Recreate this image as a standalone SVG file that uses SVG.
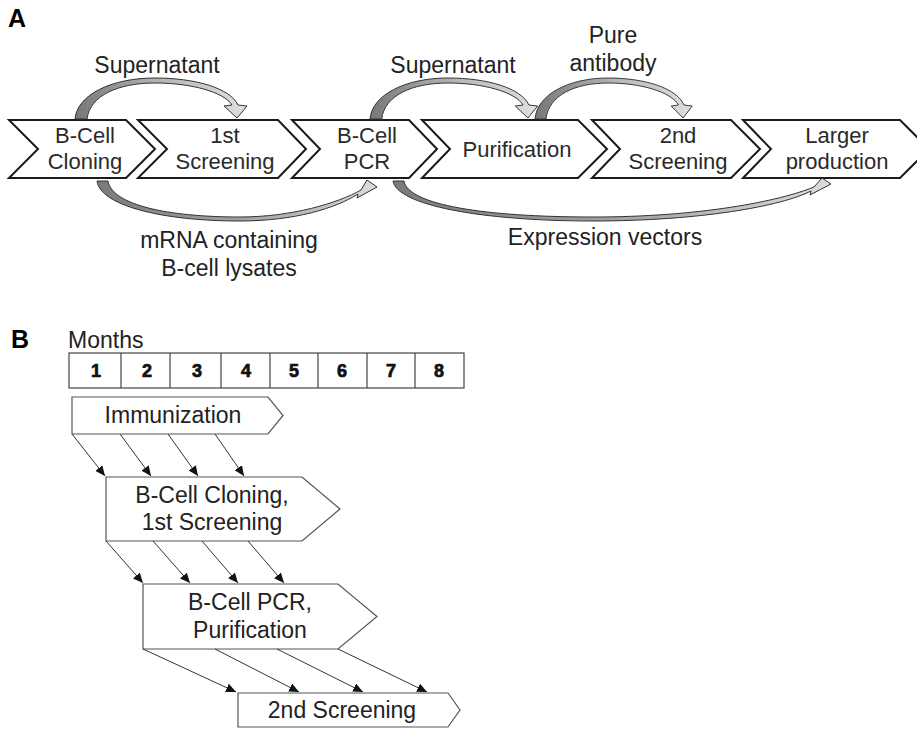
<svg xmlns="http://www.w3.org/2000/svg" width="917" height="729" viewBox="0 0 917 729">
<defs>
<style>
text{font-family:"Liberation Sans",Arial,sans-serif;fill:#222}
.lab{font-size:23px;text-anchor:middle}
.chv{font-size:22px;text-anchor:middle;fill:#2a2a2a}
.hdr{font-size:25px;font-weight:bold;fill:#000}
.num{font-size:18px;font-weight:bold;text-anchor:middle;fill:#111;stroke:#111;stroke-width:0.7}
.chev{fill:#fff;stroke:#1a1a1a;stroke-width:2;stroke-linejoin:miter}
.box{fill:#fff;stroke:#555;stroke-width:1.2}
.curve{fill:url(#g);stroke:#333;stroke-width:1}
.curveB{fill:url(#g2);stroke:#333;stroke-width:1}
.ln{stroke:#333;stroke-width:1;fill:none;marker-end:url(#ah)}
</style>
<linearGradient id="g" x1="0" y1="0" x2="1" y2="0">
<stop offset="0" stop-color="#777"/><stop offset="0.5" stop-color="#b5b5b5"/><stop offset="1" stop-color="#e0e0e0"/>
</linearGradient>
<linearGradient id="g2" x1="0" y1="0" x2="1" y2="0">
<stop offset="0" stop-color="#7a7a7a"/><stop offset="0.6" stop-color="#aaa"/><stop offset="1" stop-color="#dcdcdc"/>
</linearGradient>
<marker id="ah" viewBox="0 0 10 9" refX="10" refY="4.5" markerWidth="10" markerHeight="9" markerUnits="userSpaceOnUse" orient="auto">
<path d="M0,0 L10,4.5 L0,9 Z" fill="#111"/>
</marker>
<path id="topArrow" d="M0,0 C2,-24 36,-41 80,-41 C120,-41 155,-31 163,-14 L172,-13 L162,-1 L149,-13 L157,-14 C149,-27 116,-36 80,-36 C44,-36 15,-24 12,0 Z"/>
</defs>

<text x="8" y="27" class="hdr">A</text>
<text x="11" y="348" class="hdr">B</text>

<!-- Panel A nodes -->
<g id="a-bcell-cloning">
<path class="chev" d="M9,120 L126,120 L155,149 L126,178 L9,178 L38,149 Z"/>
<text class="chv" x="85" y="143">B-Cell</text>
<text class="chv" x="85" y="169">Cloning</text>
</g>
<g id="a-1st-screening">
<path class="chev" d="M138,120 L278,120 L306,149 L278,178 L138,178 L167,149 Z"/>
<text class="chv" x="225" y="143">1st</text>
<text class="chv" x="225" y="169">Screening</text>
</g>
<g id="a-bcell-pcr">
<path class="chev" d="M292,120 L409,120 L437,149 L409,178 L292,178 L320,149 Z"/>
<text class="chv" x="367" y="143">B-Cell</text>
<text class="chv" x="367" y="169">PCR</text>
</g>
<g id="a-purification">
<path class="chev" d="M422,120 L578,120 L607,149 L578,178 L422,178 L450,149 Z"/>
<text class="chv" x="517" y="157">Purification</text>
</g>
<g id="a-2nd-screening">
<path class="chev" d="M592,120 L731,120 L760,149 L731,178 L592,178 L620,149 Z"/>
<text class="chv" x="678" y="143">2nd</text>
<text class="chv" x="678" y="169">Screening</text>
</g>
<g id="a-larger-production">
<path class="chev" d="M743,120 L900,120 L929,149 L900,178 L743,178 L771,149 Z"/>
<text class="chv" x="837" y="143">Larger</text>
<text class="chv" x="837" y="169">production</text>
</g>

<!-- Panel A connectors -->
<g id="a-connectors">
<use href="#topArrow" class="curve" transform="translate(75,119)"/>
<use href="#topArrow" class="curve" transform="translate(370,119) scale(0.975,1)"/>
<use href="#topArrow" class="curve" transform="translate(535,119) scale(0.914,1)"/>
<path class="curveB" d="M97,181 C100,205 160,221 240,221 C295,221 336,208 358,194 L357,198 L377,187 L367,180 L361,190 C338,203 292,217 240,217 C168,217 112,205 108,181 Z"/>
<path class="curveB" d="M393,181 C397,205 480,221 593,221 C700,221 782,206 811,191 L810,195 L831,184 L822,178 L814,187 C780,201 700,217 593,217 C485,217 408,205 404,181 Z"/>
<text class="lab" x="157" y="73">Supernatant</text>
<text class="lab" x="453" y="73">Supernatant</text>
<text class="lab" x="613" y="43">Pure</text>
<text class="lab" x="613" y="71">antibody</text>
<text class="lab" x="229" y="248">mRNA containing</text>
<text class="lab" x="229" y="276">B-cell lysates</text>
<text class="lab" x="605" y="245">Expression vectors</text>
</g>

<!-- Panel B -->
<g id="b-months">
<text x="68" y="348" style="font-size:23px">Months</text>
<rect x="69" y="353" width="395" height="35" fill="#fff" stroke="#444" stroke-width="1.2"/>
<path d="M121,353 V388 M170,353 V388 M221,353 V388 M270,353 V388 M318,353 V388 M367,353 V388 M415,353 V388" stroke="#444" stroke-width="1.2"/>
<text class="num" x="96" y="377">1</text>
<text class="num" x="147" y="377">2</text>
<text class="num" x="197" y="377">3</text>
<text class="num" x="246" y="377">4</text>
<text class="num" x="294" y="377">5</text>
<text class="num" x="342" y="377">6</text>
<text class="num" x="391" y="377">7</text>
<text class="num" x="439" y="377">8</text>
</g>

<g id="b-immunization">
<path class="box" d="M72,397 H268 L283,415.5 L268,434 H72 Z"/>
<text class="lab" x="173" y="423">Immunization</text>
</g>
<g id="b-cloning-screening">
<path class="box" d="M106,477 H302 L340,509 L302,541 H106 Z"/>
<text class="lab" x="212" y="503">B-Cell Cloning,</text>
<text class="lab" x="212" y="530">1st Screening</text>
</g>
<g id="b-pcr-purification">
<path class="box" d="M143,584 H338 L377,616.5 L338,649 H143 Z"/>
<text class="lab" x="250" y="610">B-Cell PCR,</text>
<text class="lab" x="250" y="638">Purification</text>
</g>
<g id="b-2nd-screening">
<path class="box" d="M238,693 H448 L460,710 L448,727 H238 Z"/>
<text class="lab" x="342" y="718">2nd Screening</text>
</g>

<g id="b-connectors">
<path class="ln" d="M72,434 L105,476"/>
<path class="ln" d="M120,434 L151,476"/>
<path class="ln" d="M168,434 L198,476"/>
<path class="ln" d="M215,434 L244,476"/>
<path class="ln" d="M106,541 L143,583"/>
<path class="ln" d="M153,541 L190,583"/>
<path class="ln" d="M202,541 L238,583"/>
<path class="ln" d="M248,541 L284,583"/>
<path class="ln" d="M143,649 L236,692"/>
<path class="ln" d="M215,649 L299,692"/>
<path class="ln" d="M277,649 L363,692"/>
<path class="ln" d="M338,649 L427,692"/>
</g>
</svg>
